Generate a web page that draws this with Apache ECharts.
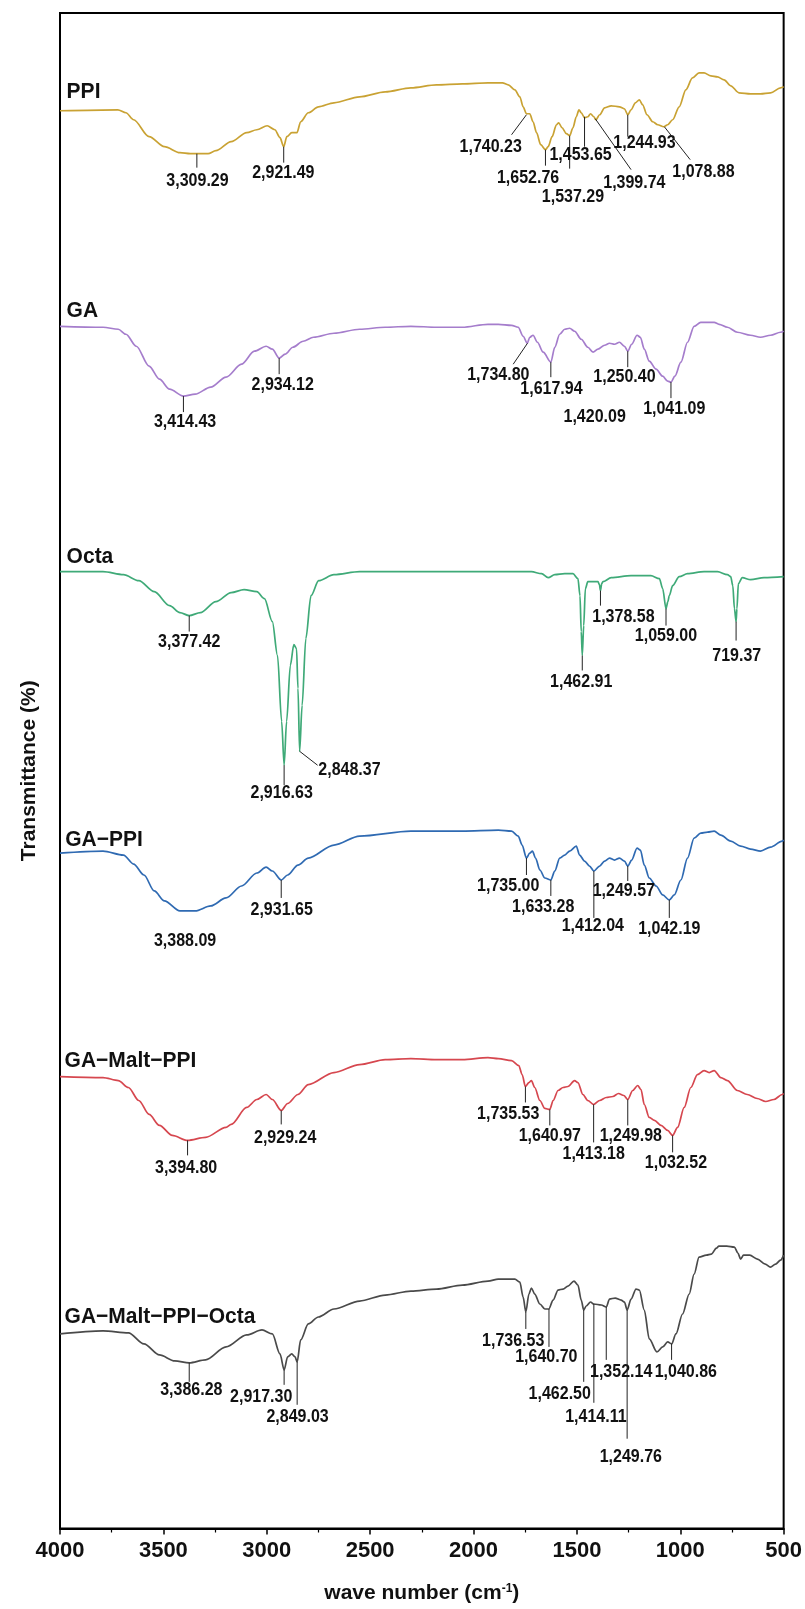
<!DOCTYPE html>
<html>
<head>
<meta charset="utf-8">
<script src="https://cdn.jsdelivr.net/npm/echarts/dist/echarts.min.js"></script>
<style>
html,body{margin:0;padding:0;background:#fff;}
#chart{width:805px;height:1609px;}
</style>
</head>
<body>
<div id="chart"></div>
<script>
// ---- data: [wave number (cm-1), transmittance (a.u., offset for stacking)] ----
var ppi = [[4000,142.1],[3720,142.2],[3681,141.9],[3644,141.2],[3569,139.5],[3495,138.5],[3420,137.9],[3370,137.8],[3284,137.8],[3246,138.1],[3172,139.0],[3097,139.9],[3048,140.2],[2998,140.6],[2961,140.2],[2936,139.4],[2918,138.5],[2903,139.5],[2879,139.9],[2854,139.9],[2836,141.0],[2799,141.9],[2750,142.5],[2675,142.9],[2551,143.5],[2427,144.0],[2303,144.4],[2179,144.7],[2054,144.8],[1930,144.9],[1860,144.9],[1832,144.7],[1800,144.2],[1776,143.5],[1760,142.5],[1744,141.8],[1728,141.8],[1712,141.0],[1695,139.9],[1675,138.7],[1652,138.2],[1639,138.5],[1620,139.5],[1599,140.7],[1588,140.9],[1572,140.4],[1551,139.8],[1535,139.6],[1519,140.4],[1503,141.5],[1490,142.2],[1479,141.9],[1463,141.4],[1447,141.5],[1434,141.8],[1418,141.5],[1408,141.2],[1390,141.7],[1366,142.4],[1334,142.6],[1294,142.5],[1270,142.3],[1254,141.7],[1238,142.2],[1217,142.9],[1198,143.2],[1182,142.7],[1161,141.7],[1133,141.0],[1109,140.7],[1080,140.5],[1061,140.7],[1037,141.2],[1005,142.5],[973,144.2],[941,145.4],[909,145.9],[885,145.9],[852,145.6],[820,145.5],[788,145.2],[756,144.6],[716,143.9],[660,143.8],[612,143.8],[563,143.9],[515,144.4],[500,144.5]];
var ga = [[4000,120.5],[3792,120.4],[3718,120.2],[3681,119.7],[3631,118.5],[3569,116.5],[3519,115.2],[3470,114.2],[3403,113.5],[3346,113.7],[3271,114.4],[3197,115.4],[3122,116.7],[3060,118.0],[3003,118.5],[2973,118.2],[2940,117.3],[2911,117.7],[2874,118.4],[2824,119.0],[2774,119.4],[2675,119.8],[2551,120.2],[2427,120.4],[2303,120.5],[2179,120.4],[2054,120.4],[1930,120.7],[1880,120.7],[1816,120.6],[1784,120.4],[1760,119.5],[1740,118.8],[1728,119.4],[1712,119.6],[1691,118.9],[1663,117.9],[1626,116.9],[1607,118.4],[1583,119.7],[1559,120.2],[1535,120.3],[1511,120.0],[1479,119.2],[1447,118.4],[1422,117.9],[1398,118.2],[1366,118.6],[1342,118.8],[1318,118.7],[1294,118.9],[1270,118.5],[1254,118.0],[1235,118.7],[1209,119.6],[1193,119.4],[1174,118.2],[1150,117.0],[1117,116.2],[1085,115.5],[1061,115.0],[1045,114.9],[1026,115.5],[997,116.9],[965,118.9],[933,120.5],[901,120.9],[868,120.9],[836,120.9],[812,120.7],[772,120.4],[724,119.9],[660,119.6],[612,119.4],[563,119.6],[515,119.9],[500,120.0]];
var octa = [[4000,95.9],[3792,95.9],[3693,95.6],[3619,95.0],[3544,93.9],[3470,92.5],[3420,91.8],[3375,91.5],[3321,91.8],[3246,92.9],[3172,93.8],[3110,94.1],[3048,93.9],[3011,93.2],[2973,90.9],[2948,87.5],[2928,80.9],[2916,76.5],[2904,80.9],[2886,86.5],[2869,88.6],[2856,88.2],[2849,84.2],[2841,77.9],[2829,82.5],[2811,89.2],[2786,93.5],[2749,95.0],[2675,95.6],[2551,95.9],[2303,95.9],[2054,95.9],[1880,95.9],[1720,95.9],[1671,95.7],[1639,95.3],[1607,95.6],[1559,95.7],[1519,95.7],[1495,95.2],[1485,93.5],[1479,89.9],[1474,87.5],[1467,90.5],[1459,94.2],[1447,94.9],[1422,94.9],[1398,94.9],[1391,94.6],[1386,94.0],[1380,94.7],[1374,94.9],[1334,95.3],[1238,95.5],[1142,95.5],[1101,95.2],[1085,94.2],[1069,92.2],[1060,92.9],[1053,93.5],[1037,94.5],[1005,95.4],[965,95.7],[885,95.9],[820,95.9],[772,95.6],[756,95.4],[746,94.5],[738,92.2],[730,90.9],[726,92.2],[719,94.7],[700,95.3],[660,95.1],[595,95.3],[500,95.4]];
var gaPpi = [[4000,67.7],[3792,67.9],[3693,67.5],[3644,66.6],[3594,65.5],[3544,63.9],[3495,62.9],[3420,61.9],[3346,61.9],[3271,62.4],[3197,63.2],[3122,64.4],[3048,65.7],[3003,66.3],[2973,65.9],[2930,65.0],[2899,65.5],[2849,66.5],[2799,67.2],[2675,68.5],[2551,69.4],[2303,69.9],[2054,69.9],[1880,70.0],[1816,69.9],[1784,69.4],[1765,68.5],[1744,67.2],[1728,67.7],[1715,67.9],[1700,67.2],[1679,66.0],[1655,65.2],[1626,65.0],[1607,65.9],[1583,67.2],[1559,67.5],[1535,67.9],[1503,68.4],[1487,67.5],[1463,66.9],[1439,66.4],[1418,65.9],[1390,66.4],[1366,66.9],[1342,67.2],[1318,67.0],[1294,67.2],[1270,66.9],[1254,66.4],[1235,67.0],[1209,68.2],[1193,68.0],[1174,66.5],[1150,65.2],[1117,64.4],[1085,63.5],[1053,63.0],[1029,63.5],[997,65.0],[965,67.2],[933,69.2],[901,69.7],[868,69.8],[836,69.9],[804,69.5],[756,68.9],[708,68.4],[660,68.1],[612,67.9],[563,68.3],[507,68.9],[500,69.0]];
var gaMaltPpi = [[4000,45.3],[3792,45.2],[3718,44.9],[3669,44.2],[3619,42.9],[3569,41.5],[3519,40.4],[3457,39.4],[3383,38.9],[3296,39.2],[3197,40.2],[3172,40.5],[3097,42.2],[3048,43.0],[3003,43.5],[2973,43.0],[2930,41.9],[2899,42.6],[2849,43.5],[2799,44.5],[2675,45.7],[2551,46.5],[2427,47.0],[2303,47.1],[2179,47.0],[2054,47.0],[1930,47.2],[1880,47.1],[1816,46.9],[1781,46.4],[1765,45.5],[1749,44.3],[1732,44.7],[1720,44.9],[1704,44.2],[1679,42.9],[1655,42.1],[1631,42.0],[1615,42.9],[1591,43.9],[1567,44.2],[1543,44.3],[1511,44.9],[1495,44.7],[1471,43.5],[1447,42.9],[1419,42.5],[1390,42.9],[1358,43.2],[1326,43.3],[1299,43.6],[1273,43.4],[1254,43.0],[1230,43.9],[1206,44.4],[1190,44.0],[1174,42.5],[1150,41.2],[1125,40.9],[1093,40.4],[1061,39.9],[1037,39.4],[1013,40.2],[981,42.2],[949,44.2],[917,45.5],[885,45.9],[860,45.7],[836,45.9],[804,45.2],[772,44.9],[724,43.9],[676,43.5],[628,43.1],[587,42.8],[547,43.0],[507,43.5],[500,43.6]];
var gaMaltPpiOcta = [[4000,19.5],[3792,19.8],[3669,19.6],[3594,18.5],[3519,17.4],[3445,16.8],[3375,16.6],[3296,16.9],[3197,18.2],[3097,19.4],[3023,19.9],[2973,19.5],[2936,17.5],[2916,15.9],[2899,17.2],[2879,17.5],[2863,17.2],[2853,16.7],[2836,18.9],[2799,20.5],[2750,21.2],[2675,22.0],[2551,22.8],[2427,23.4],[2303,23.8],[2179,24.0],[2054,24.4],[1930,24.8],[1880,25.0],[1800,25.0],[1776,24.7],[1760,23.2],[1747,21.7],[1732,23.5],[1720,24.1],[1704,23.5],[1679,22.5],[1655,22.0],[1636,22.0],[1615,22.9],[1591,23.9],[1567,24.0],[1543,24.3],[1514,24.8],[1495,24.4],[1479,22.9],[1467,21.9],[1455,22.3],[1434,22.7],[1418,22.5],[1382,22.4],[1358,22.2],[1342,23.0],[1315,23.1],[1286,22.9],[1270,22.7],[1257,21.9],[1238,23.0],[1214,24.0],[1198,23.9],[1174,21.9],[1150,19.0],[1113,17.7],[1085,18.2],[1061,18.7],[1042,18.5],[1021,19.5],[989,21.5],[957,23.5],[933,25.5],[909,27.2],[874,27.4],[850,27.5],[825,28.1],[813,28.3],[775,28.3],[738,28.2],[721,27.6],[708,27.0],[694,27.4],[664,27.4],[627,27.0],[589,26.5],[564,26.2],[539,26.5],[515,26.9],[500,27.4]];

// series names and where their labels sit: [name, wave number, transmittance]
var seriesNames = [['PPI',3968,144.0],['GA',3968,122.0],['Octa',3968,97.4],['GA\u2212PPI',3975,69.0],['GA\u2212Malt\u2212PPI',3978,46.9],['GA\u2212Malt\u2212PPI\u2212Octa',3978,21.2]];

// peak annotations: [text, peak x, peak y, leader end x, leader end y, label x, label y]
var peaks = [
 ['3,309.29',3338,137.8,3338,136.4,3335,135.1],
 ['2,921.49',2918,138.5,2918,136.9,2920,135.9],
 ['1,740.23',1744,141.7,1816,139.7,1917,138.5],
 ['1,652.76',1652,138.2,1652,136.6,1736,135.4],
 ['1,537.29',1535,139.6,1535,136.3,1519,133.5],
 ['1,453.65',1463,141.5,1463,138.5,1482,137.7],
 ['1,399.74',1411,141.3,1238,136.2,1222,134.9],
 ['1,244.93',1254,141.7,1254,139.5,1173,138.9],
 ['1,078.88',1077,140.5,952,137.2,888,136.0],
 ['3,414.43',3403,113.5,3403,111.9,3395,110.9],
 ['2,934.12',2940,117.3,2940,115.7,2923,114.6],
 ['1,734.80',1739,118.8,1808,116.7,1880,115.6],
 ['1,617.94',1626,116.9,1626,115.4,1623,114.2],
 ['1,250.40',1254,118.0,1254,116.4,1270,115.4],
 ['1,420.09',null,null,null,null,1414,111.4],
 ['1,041.09',1045,114.9,1045,113.3,1029,112.2],
 ['3,377.42',3375,91.5,3375,89.9,3375,88.8],
 ['2,916.63',2916,76.5,2916,74.5,2928,73.7],
 ['2,848.37',2841,77.9,2754,76.5,2600,76.0],
 ['1,462.91',1474,87.5,1474,86.0,1479,84.8],
 ['1,378.58',1386,94.0,1386,92.5,1275,91.4],
 ['1,059.00',1069,92.2,1069,90.5,1069,89.4],
 ['719.37',730,90.9,730,89.0,727,87.4],
 ['3,388.09',null,null,null,null,3395,58.9],
 ['2,931.65',2930,65.0,2930,63.2,2928,62.0],
 ['1,735.00',1744,67.2,1744,65.5,1832,64.4],
 ['1,633.28',1626,65.0,1626,63.4,1663,62.3],
 ['1,412.04',1418,65.9,1418,61.2,1423,60.4],
 ['1,249.57',1254,66.4,1254,64.9,1273,63.9],
 ['1,042.19',1053,63.0,1053,61.2,1053,60.1],
 ['3,394.80',3383,38.9,3383,37.4,3390,36.1],
 ['2,929.24',2930,41.9,2930,40.5,2911,39.1],
 ['1,735.53',1749,44.3,1749,42.7,1832,41.5],
 ['1,640.97',1631,42.0,1631,40.4,1631,39.3],
 ['1,413.18',1419,42.5,1419,38.7,1419,37.5],
 ['1,249.98',1254,43.0,1254,40.4,1239,39.3],
 ['1,032.52',1037,39.4,1037,37.7,1021,36.6],
 ['3,386.28',3375,16.6,3375,14.7,3365,13.9],
 ['2,917.30',2916,15.9,2916,14.4,3027,13.2],
 ['2,849.03',2853,16.7,2853,12.4,2851,11.2],
 ['1,736.53',1747,21.7,1747,20.0,1808,18.8],
 ['1,640.70',1635,22.0,1635,18.2,1648,17.2],
 ['1,462.50',1467,21.9,1467,14.7,1583,13.5],
 ['1,414.11',1418,22.5,1418,12.6,1408,11.2],
 ['1,352.14',1358,22.2,1358,16.9,1286,15.7],
 ['1,249.76',1257,21.9,1257,9.0,1239,7.2],
 ['1,040.86',1042,18.5,1042,16.9,973,15.7]
];

var xTicks = [4000,3500,3000,2500,2000,1500,1000,500];

var spectra = [
 {name:'PPI', data:ppi, color:'#C9A233'},
 {name:'GA', data:ga, color:'#A57DCC'},
 {name:'Octa', data:octa, color:'#3FAA78'},
 {name:'GA-PPI', data:gaPpi, color:'#2F6AB2'},
 {name:'GA-Malt-PPI', data:gaMaltPpi, color:'#D6474F'},
 {name:'GA-Malt-PPI-Octa', data:gaMaltPpiOcta, color:'#4A4A4A'}
];

var FONT = '"Liberation Sans", Arial, Helvetica, sans-serif';

var series = spectra.map(function(s){
  return {
    type:'line', name:s.name, data:s.data, showSymbol:false, symbol:'none',
    smooth:0.3, smoothMonotone:'x',
    lineStyle:{color:s.color, width:1.7}, itemStyle:{color:s.color},
    animation:false, z:2
  };
});

series.push({
  type:'custom', coordinateSystem:'cartesian2d', clip:false, animation:false, z:5,
  data: peaks.map(function(p){ return [p[5], p[6]]; }),
  encode:{x:0, y:1},
  renderItem:function(params, api){
    var p = peaks[params.dataIndex];
    var children = [];
    if (p[1] !== null) {
      var a = api.coord([p[1], p[2]]), b = api.coord([p[3], p[4]]);
      children.push({type:'line', shape:{x1:a[0], y1:a[1], x2:b[0], y2:b[1]},
        style:{stroke:'#222', lineWidth:1}});
    }
    var c = api.coord([p[5], p[6]]);
    children.push({type:'text', x:c[0], y:c[1], scaleY:1.12,
      style:{text:p[0], align:'center', verticalAlign:'middle',
        font:'bold 16px ' + FONT, fill:'#111'}});
    return {type:'group', children:children};
  }
});

series.push({
  type:'custom', coordinateSystem:'cartesian2d', clip:false, animation:false, z:5,
  data: seriesNames.map(function(n){ return [n[1], n[2]]; }),
  encode:{x:0, y:1},
  renderItem:function(params, api){
    var n = seriesNames[params.dataIndex];
    var c = api.coord([n[1], n[2]]);
    return {type:'text', x:c[0], y:c[1], scaleY:1.06,
      style:{text:n[0], align:'left', verticalAlign:'middle',
        font:'bold 21px ' + FONT, fill:'#111'}};
  }
});

var chart = echarts.init(document.getElementById('chart'), null, {renderer:'canvas'});
chart.setOption({
  backgroundColor:'#fff',
  animation:false,
  grid:{left:60, right:19, top:13, bottom:77, show:true, borderColor:'#000', borderWidth:2, containLabel:false},
  xAxis:{
    type:'value', inverse:true, min:500, max:4000, interval:500,
    name:'wave number (cm{sup|-1})', nameLocation:'middle', nameGap:54,
    nameTextStyle:{fontFamily:FONT, fontSize:21, fontWeight:'bold', color:'#111',
      rich:{sup:{fontFamily:FONT, fontSize:12, fontWeight:'bold', color:'#111', verticalAlign:'top', padding:[0,0,10,0]}}},
    axisLine:{show:true, lineStyle:{color:'#000', width:2}},
    axisTick:{show:true, inside:false, length:6, lineStyle:{color:'#000', width:1.5}},
    minorTick:{show:true, splitNumber:2, length:4, lineStyle:{color:'#000', width:1.2}},
    splitLine:{show:false},
    axisLabel:{show:true, margin:11, fontFamily:FONT, fontSize:22, fontWeight:'bold', color:'#111',
      formatter:function(v){ return xTicks.indexOf(v) >= 0 ? String(v) : ''; }}
  },
  yAxis:{
    type:'value', min:0, max:151.9,
    name:'Transmittance (%)', nameLocation:'middle', nameGap:20, nameRotate:90,
    nameTextStyle:{fontFamily:FONT, fontSize:21, fontWeight:'bold', color:'#111'},
    axisLine:{show:false}, axisTick:{show:false}, axisLabel:{show:false}, splitLine:{show:false}
  },
  series:series
});
</script>
</body>
</html>
